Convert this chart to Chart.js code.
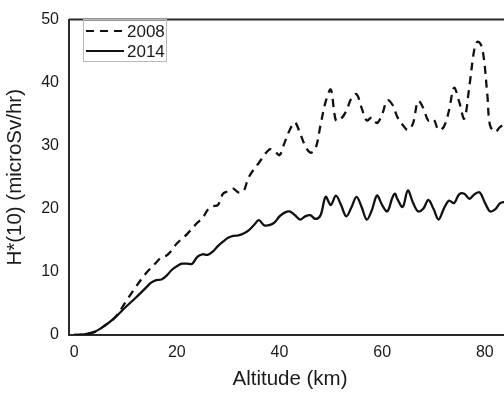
<!DOCTYPE html>
<html>
<head>
<meta charset="utf-8">
<script src="https://cdn.jsdelivr.net/npm/chart.js@4"></script>
<style>
  html, body { margin: 0; padding: 0; background: #fff; overflow: hidden; width: 504px; height: 393px; }
  #wrap { position: absolute; left: 0; top: 0; width: 512px; height: 393px; }
</style>
</head>
<body>
<div id="wrap"><canvas id="c" width="512" height="393"></canvas></div>
<script>
const seriesLabels = ['2008', '2014'];
const xTicks = [0, 20, 40, 60, 80];
const yTicks = [0, 10, 20, 30, 40, 50];

const alt2008 = [0, 2, 4, 6, 8, 10, 12, 14, 16, 17, 18, 19, 20, 22, 24, 25, 26, 27, 28, 29, 30, 31, 32, 33, 34, 36, 38, 39, 40, 41, 42, 43, 44, 45, 46, 47, 48, 49, 50, 51, 52, 53, 54, 55, 56, 57, 58, 59, 60, 61, 62, 63, 64, 65, 66, 67, 68, 69, 70, 71, 72, 73, 74, 75, 76, 77, 78, 78.6, 79.5, 80.5, 81, 82, 83, 84, 85];
const h2008 = [0, 0.1, 0.5, 1.5, 2.8, 5.2, 7.6, 9.8, 11.5, 12.3, 12.6, 13.4, 14.5, 16, 17.8, 18.5, 19.8, 20.4, 20.6, 22.4, 22.8, 23.2, 22.6, 22.8, 25, 27.3, 29.4, 29.2, 28.5, 30.5, 32.5, 33.7, 32, 30, 28.9, 29.5, 33.3, 37, 38.9, 34, 34.3, 35.5, 37.5, 38.2, 36, 34, 34.5, 33.6, 35, 37.2, 36.5, 34.5, 33.3, 32.5, 33.5, 37.1, 36, 34, 34.2, 32.5, 33, 35.5, 39.2, 37, 34.3, 39.5, 45.5, 46.5, 45.5, 38, 33.3, 32.2, 33, 33.5, 33.8];

const alt2014 = [0, 2, 4, 6, 8, 10, 12, 14, 15, 16, 17, 18, 19, 20, 21, 22, 23, 24, 25, 26, 27, 28, 29, 30, 31, 32, 33, 34, 35, 36, 37, 38, 39, 40, 41, 42, 43, 44, 45, 46, 47, 48, 49, 50, 51, 52, 53, 54, 55, 56, 57, 58, 59, 60, 61, 62, 62.5, 63, 64, 65, 66, 67, 68, 69, 70, 71, 72, 73, 74, 75, 76, 77, 78, 79, 80, 81, 82, 83, 84, 85];
const h2014 = [0, 0.1, 0.5, 1.5, 2.8, 4.4, 5.9, 7.5, 8.3, 8.7, 8.8, 9.4, 10.3, 10.9, 11.3, 11.3, 11.3, 12.4, 12.8, 12.7, 13.2, 14.1, 14.8, 15.4, 15.7, 15.8, 16.1, 16.6, 17.4, 18.2, 17.4, 17.4, 17.8, 18.8, 19.4, 19.6, 19, 18.3, 18.8, 19, 18.4, 19, 21.9, 20.6, 22.1, 20.6, 18.8, 20.2, 21.9, 20.3, 18.3, 19.8, 22.1, 20.6, 19.6, 21.8, 22.4, 21.5, 20.3, 22.9, 21, 19.6, 20, 21.4, 20, 18.3, 20, 21.3, 20.9, 22.3, 22.4, 21.6, 22.3, 22.6, 21, 19.6, 19.9, 20.9, 21.1, 21.2];

const toPoints = (xs, ys) => xs.map((x, i) => ({ x: x, y: ys[i] }));

const AXIS_COLOR = '#2a2a2a';
const TEXT_COLOR = '#1a1a1a';
const FONT = "'Liberation Sans', Arial, sans-serif";

const framePlugin = {
  id: 'frameAndLegend',
  afterDraw(chart) {
    const ctx = chart.ctx;
    const a = chart.chartArea;
    ctx.save();
    ctx.strokeStyle = AXIS_COLOR;
    ctx.lineWidth = 2;
    ctx.beginPath();
    ctx.moveTo(a.left, a.top);
    ctx.lineTo(a.right, a.top);
    ctx.stroke();
    const bx = 83.5, by = 19.5, bw = 83, bh = 42;
    ctx.strokeStyle = '#b8b8b8';
    ctx.lineWidth = 1;
    ctx.strokeRect(bx, by, bw, bh);
    ctx.font = '17px ' + FONT;
    ctx.fillStyle = TEXT_COLOR;
    ctx.textAlign = 'left';
    ctx.textBaseline = 'middle';
    chart.data.datasets.forEach((ds, i) => {
      const y = 31 + i * 20;
      ctx.strokeStyle = ds.borderColor;
      ctx.lineWidth = 2;
      ctx.setLineDash(ds.borderDash || []);
      ctx.beginPath();
      ctx.moveTo(86, y);
      ctx.lineTo(124, y);
      ctx.stroke();
      ctx.setLineDash([]);
      ctx.fillText(ds.label, 127, y + 1);
    });
    ctx.restore();
  }
};

new Chart(document.getElementById('c'), {
  type: 'line',
  data: {
    datasets: [
      {
        label: seriesLabels[0],
        data: toPoints(alt2008, h2008),
        borderColor: '#111',
        borderWidth: 2.3,
        borderDash: [8, 6],
        pointRadius: 0,
        tension: 0.35,
        fill: false
      },
      {
        label: seriesLabels[1],
        data: toPoints(alt2014, h2014),
        borderColor: '#111',
        borderWidth: 2.3,
        pointRadius: 0,
        tension: 0.35,
        fill: false
      }
    ]
  },
  options: {
    responsive: false,
    animation: false,
    events: [],
    layout: { padding: { top: 12, right: 1, left: 0, bottom: 0 } },
    plugins: { legend: { display: false }, tooltip: { enabled: false } },
    scales: {
      x: {
        type: 'linear',
        min: -1,
        max: 85.1,
        afterBuildTicks: (s) => { s.ticks = xTicks.map(v => ({ value: v })); },
        afterFit: (s) => { s.height = 58; },
        grid: { display: false, drawTicks: false },
        border: { display: true, color: AXIS_COLOR, width: 2 },
        ticks: { color: TEXT_COLOR, font: { family: FONT, size: 16 }, padding: 8, maxRotation: 0 },
        title: { display: true, text: 'Altitude (km)', color: TEXT_COLOR, font: { family: FONT, size: 20.5 }, padding: { top: 0, bottom: 1 } }
      },
      y: {
        min: 0,
        max: 50,
        afterBuildTicks: (s) => { s.ticks = yTicks.map(v => ({ value: v })); },
        afterFit: (s) => { s.width = 69; },
        grid: { display: false, drawTicks: false },
        border: { display: true, color: AXIS_COLOR, width: 2 },
        ticks: { color: TEXT_COLOR, font: { family: FONT, size: 16 }, padding: 10 },
        title: { display: true, text: 'H*(10) (microSv/hr)', color: TEXT_COLOR, font: { family: FONT, size: 20.5 }, padding: { top: 3, bottom: 0 } }
      }
    }
  },
  plugins: [framePlugin]
});
</script>
</body>
</html>
